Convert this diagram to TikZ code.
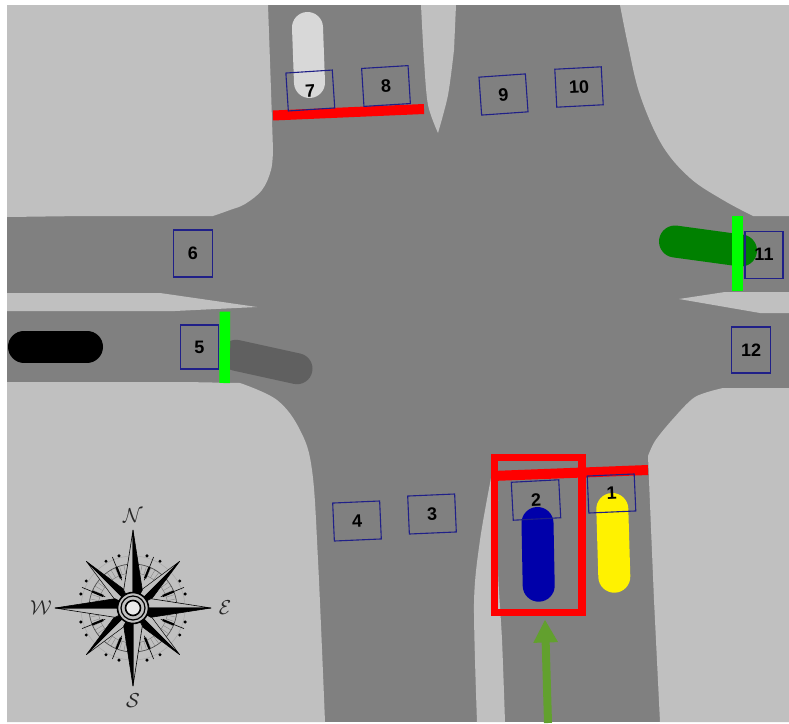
\documentclass[tikz,border=0pt]{standalone}
\usepackage{fontspec}
\setmainfont{Liberation Sans}
\usetikzlibrary{arrows.meta}
\definecolor{road}{RGB}{128,128,128}
\definecolor{verge}{RGB}{192,192,192}
\definecolor{boxblue}{RGB}{32,32,136}
\definecolor{carblue}{RGB}{0,0,170}
\definecolor{cargreen}{RGB}{0,128,0}
\definecolor{cargrey}{RGB}{96,96,96}
\definecolor{carwhite}{RGB}{216,216,216}
\definecolor{arrowgreen}{RGB}{98,160,46}
\tikzset{
  numbox/.style={draw=boxblue,line width=1.1pt,inner sep=0pt,font=\bfseries\fontsize{18}{18}\selectfont,text=black},
  car/.style={line width=32pt,line cap=round},
  stopline/.style={line width=10pt,red},
  greenline/.style={line width=10.5pt,green},
  verge area/.style={fill=verge,draw=none},
  compass letter/.style={font=\fontsize{15}{15}\selectfont,text=black!85,inner sep=0pt,scale=1.4},
}
\begin{document}
\begin{tikzpicture}[x=1pt,y=-1pt]
\useasboundingbox (0,0) rectangle (789,723);
\fill[white] (0,0) rectangle (789,723);
\fill[road] (7,5) rectangle (789,722);
% north-west
\path[verge area] (7,5) -- (268,5) -- (271,90) -- plot[smooth,tension=0.6] coordinates {(273,150) (271,170) (262,190) (245,204) (230,210) (213,216)} -- (83,216) -- (7,217) -- cycle;
% north median
\path[verge area] (421,5) -- (456,5) -- plot[smooth] coordinates {(454,50) (448,95) (438,133)} -- plot[smooth] coordinates {(438,133) (428,105) (424,60) (421,5)} -- cycle;
% north-east
\path[verge area] (620,5) -- (789,5) -- (789,216) -- (753,216) -- plot[smooth,tension=0.6] coordinates {(753,216) (723,200) (690,178) (662,145) (640,95) (628,45) (620,5)} -- cycle;
% east median
\path[verge area] (679,299) -- (725,292) -- (789,292) -- (789,313) -- (760,313) -- cycle;
% south-east
\path[verge area] (789,388) -- (789,722) -- (660,722) -- (654,600) -- (648,456) -- plot[smooth,tension=0.5] coordinates {(648,456) (655,441) (672,420) (695,397) (723,388)} -- cycle;
% west median
\path[verge area] (7,293) -- (160,293) -- (257,307) -- (175,311) -- (7,311) -- cycle;
% south-west
\path[verge area] (7,382) -- (185,382) -- (240,383) -- plot[smooth,tension=0.6] coordinates {(240,383) (277,400) (300,430) (312,470) (318,560) (325,722)} -- (7,722) -- cycle;
% south median
\path[verge area] (497,462) -- plot[smooth] coordinates {(491,478) (480,540) (474,603) (477,722)} -- (505,722) -- plot[smooth] coordinates {(505,722) (502,640) (498,570) (498,500)} -- cycle;

% vehicles
\draw[car,line width=31pt,carwhite] (307.5,27.5) -- (309.5,82.5);
\draw[car,line width=31pt,cargrey] (236,355.3) -- (297,368.7);
\draw[car,black] (24,346.7) -- (87,346.7);
\draw[car,cargreen] (675,241.5) -- (741,250.5);
\draw[car,carblue] (537.5,523) -- (538.7,585.7);
\draw[car,yellow] (612.3,509) -- (614.3,576.7);

% signal lines
\draw[stopline] (273,115.5) -- (424,109);
\draw[stopline] (492,476) -- (648,470);
\draw[greenline] (225,311.7) -- (224.5,383);
\draw[greenline] (737.7,216) -- (737.7,291);

% red frame
\draw[red,line width=7.5pt] (494.7,457.5) rectangle (582,612.5);

% numbered boxes
\node[numbox,minimum width=47pt,minimum height=37pt,rotate=2.5] (b1) at (611.5,493.5) {1};
\node[numbox,minimum width=47.5pt,minimum height=38pt,rotate=3] (b2) at (536,500) {2};
\node[numbox,minimum width=47pt,minimum height=38pt,rotate=2.5] (b3) at (432,514) {3};
\node[numbox,minimum width=47pt,minimum height=38pt,rotate=2.5] (b4) at (357,521) {4};
\node[numbox,minimum width=38pt,minimum height=44pt] (b5) at (199.3,347) {5};
\node[numbox,minimum width=39.5pt,minimum height=47pt] (b6) at (193,253.5) {6};
\node[numbox,minimum width=46.5pt,minimum height=38pt,rotate=3.7] (b7) at (310.3,90.5) {7};
\node[numbox,minimum width=46.5pt,minimum height=38pt,rotate=3.5] (b8) at (386,86) {8};
\node[numbox,minimum width=46.5pt,minimum height=38pt,rotate=4] (b9) at (503.5,94.5) {9};
\node[numbox,minimum width=46.5pt,minimum height=38pt,rotate=3] (b10) at (579,87) {10};
\node[numbox,minimum width=38pt,minimum height=47pt] (b11) at (764,254.7) {11};
\node[numbox,minimum width=39pt,minimum height=46pt] (b12) at (751,350) {12};

% arrow
\coordinate (arrowstart) at (548,723);
\coordinate (arrowtip) at (545,619.5);
\draw[arrowgreen,line width=8pt,-{Triangle[length=23pt,width=23pt]}] (arrowstart) -- (arrowtip);

% compass
\begin{scope}[shift={(133,608)},yscale=-1]
  \draw[black!55,line width=0.4pt] (0,0) circle (35);
  \draw[black!70,line width=0.7pt] (0,0) circle (44);
  \draw[black!35,line width=0.4pt] (0,0) circle (52);
  \foreach \a in {0,6,...,354} \draw[black!50,line width=0.3pt] (\a:35) -- (\a:44);
  \foreach \q in {0,90,180,270} {
    \foreach \d in {15,30,60,75} \fill[black] (\q+\d:54) circle (1.7);
    \foreach \d in {22,68} {
      \draw[black,line width=0.6pt] (\q+\d:30) -- (\q+\d:55);
      \draw[black,line width=2.2pt] (\q+\d:32) -- (\q+\d:44);
    }
  }
  \foreach \a in {45,135,225,315} {
    \begin{scope}[rotate=\a]
      \filldraw[fill=verge,draw=black,line width=0.5pt] (0,0) -- (-7,18) -- (0,66) -- cycle;
      \filldraw[fill=black,draw=black,line width=0.5pt] (0,0) -- (7,18) -- (0,66) -- cycle;
    \end{scope}
  }
  \foreach \a in {0,90,180,270} {
    \begin{scope}[rotate=\a]
      \filldraw[fill=verge,draw=black,line width=0.6pt] (0,0) -- (18,9.3) -- (78,0) -- cycle;
      \filldraw[fill=black,draw=black,line width=0.6pt] (0,0) -- (18,-9.3) -- (78,0) -- cycle;
    \end{scope}
  }
  \filldraw[fill=verge,draw=black,line width=1.6pt] (0,0) circle (15.5);
  \draw[black,line width=1.2pt] (0,0) circle (12);
  \filldraw[fill=black!8,draw=black,line width=1.6pt] (0,0) circle (7.5);
\end{scope}
\node[compass letter] (cn) at (133,516) {$\mathcal{N}$};
\node[compass letter] (cs) at (133,701) {$\mathcal{S}$};
\node[compass letter] (cw) at (41,608) {$\mathcal{W}$};
\node[compass letter] (ce) at (225,608) {$\mathcal{E}$};
\end{tikzpicture}
\end{document}
